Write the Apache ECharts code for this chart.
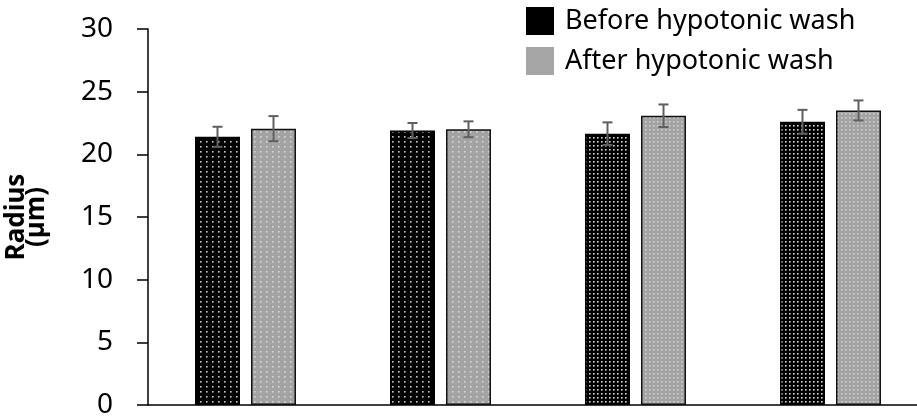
<!DOCTYPE html>
<html>
<head>
<meta charset="utf-8">
<script src="https://cdn.jsdelivr.net/npm/echarts@6/dist/echarts.min.js"></script>
<style>html,body{margin:0;padding:0;background:#fff;}#chart{width:917px;height:419px;}</style>
</head>
<body>
<div id="chart"></div>
<script>
// Data
const categories = ['Sample 1', 'Sample 2', 'Sample 3', 'Sample 4'];
const seriesNames = ['Before hypotonic wash', 'After hypotonic wash'];
const beforeValues = [21.4, 21.9, 21.65, 22.6];
const beforeErrors = [0.8, 0.6, 0.9, 0.95];
const afterValues = [22.05, 22.0, 23.08, 23.5];
const afterErrors = [1.0, 0.63, 0.9, 0.8];
const yTicks = [0, 5, 10, 15, 20, 25, 30];

function makePattern(bg, dot, sx, sy, ds) {
  const c = document.createElement('canvas');
  c.width = sx; c.height = sy;
  const ctx = c.getContext('2d');
  ctx.fillStyle = bg; ctx.fillRect(0, 0, sx, sy);
  ctx.fillStyle = dot;
  ctx.fillRect(Math.floor(sx / 2 - ds / 2), Math.floor(sy / 2 - ds / 2), ds, ds);
  return { image: c, repeat: 'repeat' };
}
const blackSparse = makePattern('#000', '#c8c8c8', 6, 5, 1.6);
const blackDense = makePattern('#000', '#d8d8d8', 4, 4, 1.6);
const graySparse = makePattern('#a3a3a3', '#d6d6d6', 6, 5, 1.6);
const grayDense = makePattern('#a3a3a3', '#d0d0d0', 4, 4, 1.6);

const BAR_W = 45, BAR_GAP = 11;
const OFFSET = (BAR_W + BAR_GAP) / 2;

function barData(vals, sparse, dense) {
  return vals.map((v, i) => ({ value: v, itemStyle: { color: i < 2 ? sparse : dense } }));
}
function errData(vals, errs) {
  return vals.map((v, i) => [i, v, errs[i]]);
}
function errRender(offset) {
  return function (params, api) {
    const i = api.value(0), v = api.value(1), e = api.value(2);
    const top = api.coord([i, v + e]);
    const bot = api.coord([i, v - e]);
    const x = top[0] + offset;
    const cap = 5;
    const st = { stroke: '#5f5f5f', lineWidth: 2 };
    return {
      type: 'group',
      children: [
        { type: 'line', shape: { x1: x, y1: top[1], x2: x, y2: bot[1] }, style: st },
        { type: 'line', shape: { x1: x - cap, y1: top[1], x2: x + cap, y2: top[1] }, style: st },
        { type: 'line', shape: { x1: x - cap, y1: bot[1], x2: x + cap, y2: bot[1] }, style: st }
      ]
    };
  };
}

const chart = echarts.init(document.getElementById('chart'));
chart.setOption({
  animation: false,
  backgroundColor: '#fff',
  textStyle: { fontFamily: 'Noto Sans' },
  grid: { left: 148, top: 29, width: 780, height: 376, outerBoundsMode: 'none', containLabel: false },
  legend: {
    orient: 'vertical',
    left: 526, top: 7,
    padding: 0,
    itemWidth: 28, itemHeight: 28, itemGap: 12,
    icon: 'rect',
    textStyle: { fontSize: 27, color: '#000', fontFamily: 'Noto Sans', padding: [0, 0, 0, 6] },
    data: [
      { name: seriesNames[0], itemStyle: { color: '#000', borderWidth: 0 } },
      { name: seriesNames[1], itemStyle: { color: '#a6a6a6', borderWidth: 0 } }
    ]
  },
  xAxis: {
    type: 'category',
    data: categories,
    axisLine: { lineStyle: { color: '#000', width: 1.5 } },
    axisTick: { show: false },
    axisLabel: { show: false }
  },
  yAxis: {
    type: 'value',
    min: yTicks[0], max: yTicks[yTicks.length - 1], interval: 5,
    splitLine: { show: false },
    axisLine: { show: true, lineStyle: { color: '#000', width: 1.5 } },
    axisTick: { show: true, inside: false, length: 11, lineStyle: { color: '#000', width: 1.5 } },
    axisLabel: { margin: 35, fontSize: 28, color: '#000', fontFamily: 'Noto Sans' },
    name: 'Radius\n(µm)',
    nameLocation: 'middle',
    nameRotate: 90,
    nameGap: 101,
    nameTextStyle: { fontSize: 26, fontWeight: 'bold', color: '#000', lineHeight: 20, fontFamily: 'Noto Sans' }
  },
  series: [
    {
      name: seriesNames[0], type: 'bar', barWidth: BAR_W, barGap: (BAR_GAP / BAR_W * 100) + '%',
      itemStyle: { borderColor: '#000', borderWidth: 1.5 },
      data: barData(beforeValues, blackSparse, blackDense)
    },
    {
      name: seriesNames[1], type: 'bar', barWidth: BAR_W,
      itemStyle: { borderColor: '#111', borderWidth: 1.5 },
      data: barData(afterValues, graySparse, grayDense)
    },
    { type: 'custom', renderItem: errRender(-OFFSET), data: errData(beforeValues, beforeErrors), z: 5, silent: true },
    { type: 'custom', renderItem: errRender(OFFSET), data: errData(afterValues, afterErrors), z: 5, silent: true }
  ]
});
</script>
</body>
</html>
